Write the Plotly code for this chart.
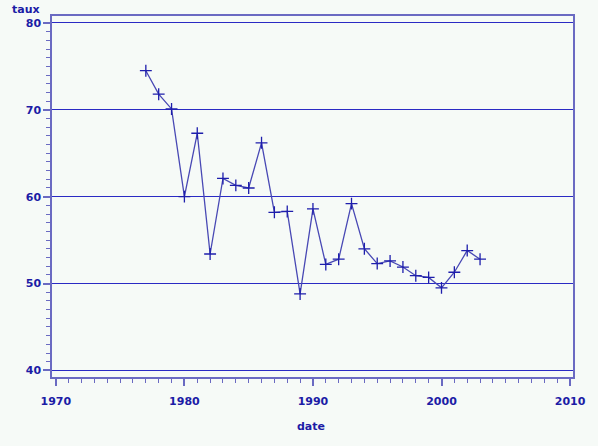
import plotly.graph_objects as go

# Annual rate series
years = [1977, 1978, 1979, 1980, 1981, 1982, 1983, 1984, 1985, 1986,
         1987, 1988, 1989, 1990, 1991, 1992, 1993, 1994, 1995, 1996,
         1997, 1998, 1999, 2000, 2001, 2002, 2003]
taux = [74.5, 71.8, 70.1, 60.0, 67.3, 53.4, 62.1, 61.3, 61.0, 66.2,
        58.2, 58.3, 48.8, 58.6, 52.2, 52.8, 59.2, 54.0, 52.3, 52.6,
        51.9, 50.9, 50.7, 49.5, 51.3, 53.8, 52.8]

x_ticks = [1970, 1980, 1990, 2000, 2010]
y_ticks = [40, 50, 60, 70, 80]

BG = "#f6faf7"
INK = "#1c1ca6"
FRAME = "#6a6ac2"
GRID = "#2a2ac4"
LINE = "#4848b4"
FONT = dict(family="DejaVu Sans", size=11, color=INK, weight="bold")

fig = go.Figure()
fig.add_trace(go.Scatter(
    x=years, y=taux, mode="lines+markers",
    line=dict(color=LINE, width=1.3),
    marker=dict(symbol="cross-thin", size=8.5,
                line=dict(color="#1e1eac", width=1.3)),
    showlegend=False,
))

fig.update_layout(
    width=598, height=446,
    margin=dict(l=52, r=14, t=16, b=69),
    paper_bgcolor=BG, plot_bgcolor=BG,
    font=FONT,
    xaxis=dict(
        range=[1969.7, 2010.23], tickvals=x_ticks,
        showgrid=False, zeroline=False,
        showline=True, mirror=True, linecolor=FRAME, linewidth=1.5,
        ticks="outside", ticklen=7, tickwidth=1.5, tickcolor=FRAME,
        minor=dict(dtick=1, tick0=1970, ticks="outside", ticklen=4,
                   tickwidth=1.3, tickcolor=FRAME, showgrid=False),
        tickfont=FONT, ticklabelstandoff=6,
    ),
    yaxis=dict(
        range=[39.24, 80.8], tickvals=y_ticks,
        showgrid=True, gridcolor=GRID, gridwidth=1.3, zeroline=False,
        showline=True, mirror=True, linecolor=FRAME, linewidth=1.5,
        ticks="outside", ticklen=7, tickwidth=1.5, tickcolor=FRAME,
        minor=dict(dtick=1, tick0=40, ticks="outside", ticklen=4,
                   tickwidth=1.3, tickcolor=FRAME, showgrid=False),
        tickfont=FONT,
    ),
    annotations=[
        dict(text="taux", xref="paper", yref="paper", x=-0.049, y=1.017,
             xanchor="center", yanchor="middle", showarrow=False, font=FONT),
        dict(text="date", xref="paper", yref="paper", x=0.498, y=-0.137,
             xanchor="center", yanchor="middle", showarrow=False, font=FONT),
    ],
)

fig.write_html("out.html")
